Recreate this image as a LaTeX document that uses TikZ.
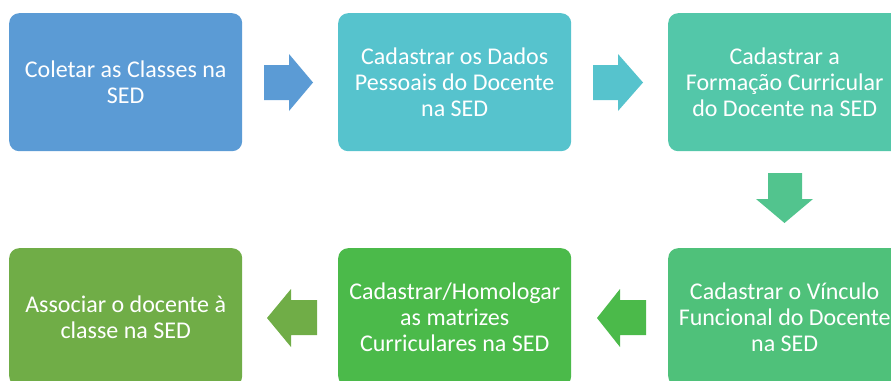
\documentclass[tikz,border=0pt]{standalone}
\usepackage{fontspec}
\setmainfont{Carlito}
\definecolor{cA}{HTML}{5B9BD5}
\definecolor{cB}{HTML}{56C3CD}
\definecolor{cC}{HTML}{53C7A9}
\definecolor{cD}{HTML}{4FC17A}
\definecolor{cE}{HTML}{4BBA4A}
\definecolor{cF}{HTML}{70AD47}
\definecolor{cDown}{HTML}{52C48E}
\begin{document}
\begin{tikzpicture}[x=1pt,y=-1pt,
  stepbox/.style={rounded corners=10pt, minimum width=233pt, minimum height=138pt,
    inner sep=0pt, text=white, align=center, font=\fontsize{24}{26}\selectfont, anchor=north west}]
\useasboundingbox (0,0) rectangle (891,380);
\clip (0,0) rectangle (891,380);
\node[stepbox, fill=cA] (b1) at (9,13) {Coletar as Classes na\\SED};
\node[stepbox, fill=cB] (b2) at (338,13) {Cadastrar os Dados\\Pessoais do Docente\\na SED};
\node[stepbox, fill=cC] (b3) at (668,13) {Cadastrar a\\Formação Curricular\\do Docente na SED};
\node[stepbox, fill=cD] (b4) at (668,248) {Cadastrar o Vínculo\\Funcional do Docente\\na SED};
\node[stepbox, fill=cE] (b5) at (338,248) {Cadastrar/Homologar\\as matrizes\\Curriculares na SED};
\node[stepbox, fill=cF] (b6) at (9,248) {Associar o docente à\\classe na SED};
% block arrows
\fill[cA] (264,65) -- (289,65) -- (289,54) -- (313,82.5) -- (289,111) -- (289,100) -- (264,100) -- cycle;
\fill[cB] (593,65) -- (618,65) -- (618,54) -- (643,82.5) -- (618,111) -- (618,100) -- (593,100) -- cycle;
\fill[cDown] (768,173) -- (802,173) -- (802,199) -- (813,199) -- (784.5,223) -- (756,199) -- (768,199) -- cycle;
\fill[cE] (646,300) -- (620,300) -- (620,289) -- (597,318) -- (620,347) -- (620,335) -- (646,335) -- cycle;
\fill[cF] (317,300) -- (291,300) -- (291,289) -- (267,318) -- (291,347) -- (291,335) -- (317,335) -- cycle;
\end{tikzpicture}
\end{document}
